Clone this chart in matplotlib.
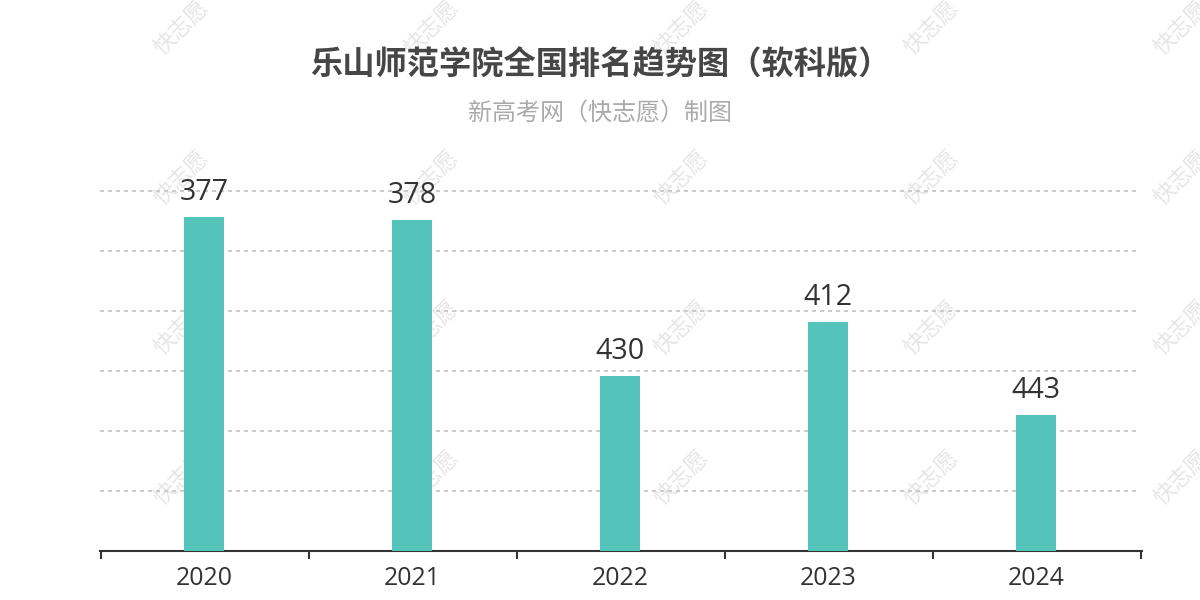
import matplotlib
matplotlib.use('Agg')
import matplotlib.pyplot as plt

plt.rcParams['font.family'] = ['Noto Sans CJK SC', 'DejaVu Sans']
digit_font = ['Open Sans', 'DejaVu Sans']

years = ['2020', '2021', '2022', '2023', '2024']
ranks = [377, 378, 430, 412, 443]
grid_ticks = [368.33, 388.33, 408.33, 428.33, 448.33, 468.33]
axis_bottom = 488.33
title = '乐山师范学院全国排名趋势图（软科版）'
subtitle = '新高考网（快志愿）制图'
watermark = '快志愿'

W, H = 1200, 600
fig = plt.figure(figsize=(12, 6), dpi=100, facecolor='white')

# watermark sits behind the axes
for row in range(4):
    for col in range(5):
        fig.text((182 + 250 * col) / W, 1 - (28 + 150 * row) / H, watermark,
                 fontsize=16, color='#e6e6e6', rotation=45,
                 ha='center', va='center', zorder=0)

ax = fig.add_axes([100 / W, 1 - 550.5 / H, 1042 / W, 360 / H], zorder=1)
ax.patch.set_alpha(0)

pos = range(len(years))
bars = ax.bar(pos, [axis_bottom - r for r in ranks], bottom=ranks, width=40 / 208,
              color='#54c3b9', zorder=3)

ax.set_xlim(-0.5, 4.5 + 2 / 208)
ax.set_ylim(axis_bottom, grid_ticks[0])
ax.set_yticks(grid_ticks)
ax.set_xticks([i - 0.5 + 1 / 208 for i in range(len(years) + 1)])
ax.set_xticks(list(pos), minor=True)
ax.set_xticklabels([])
ax.set_xticklabels(years, minor=True, family=digit_font)

# hlines rather than ax.grid so the top line isn't clipped by the axes
ax.hlines(grid_ticks, -0.5, 4.5, color='#cccccc', lw=1.44, linestyle=(0, (2, 2)),
          zorder=1, clip_on=False)
for s in ['top', 'left', 'right']:
    ax.spines[s].set_visible(False)
ax.spines['bottom'].set_color('#333333')
ax.spines['bottom'].set_linewidth(1.5)
ax.tick_params(axis='y', length=0, labelleft=False)
ax.tick_params(axis='x', which='major', length=6, width=1.5, color='#333333')
ax.tick_params(axis='x', which='minor', length=0, labelsize=17.8, labelcolor='#333333', pad=11)

for x, r in zip(pos, ranks):
    ax.annotate(str(r), (x, r), xytext=(0, 7), textcoords='offset points',
                ha='center', va='bottom', fontsize=20.6, color='#333333', zorder=5,
                family=digit_font)

fig.text(600 / W, 1 - 65 / H, title, fontsize=23.2, fontweight='bold', color='#464646',
         ha='center', va='center', zorder=2)
fig.text(600 / W, 1 - 114 / H, subtitle, fontsize=17.3, color='#aaaaaa',
         ha='center', va='center', zorder=2)

fig.savefig('out.png', dpi=100)
